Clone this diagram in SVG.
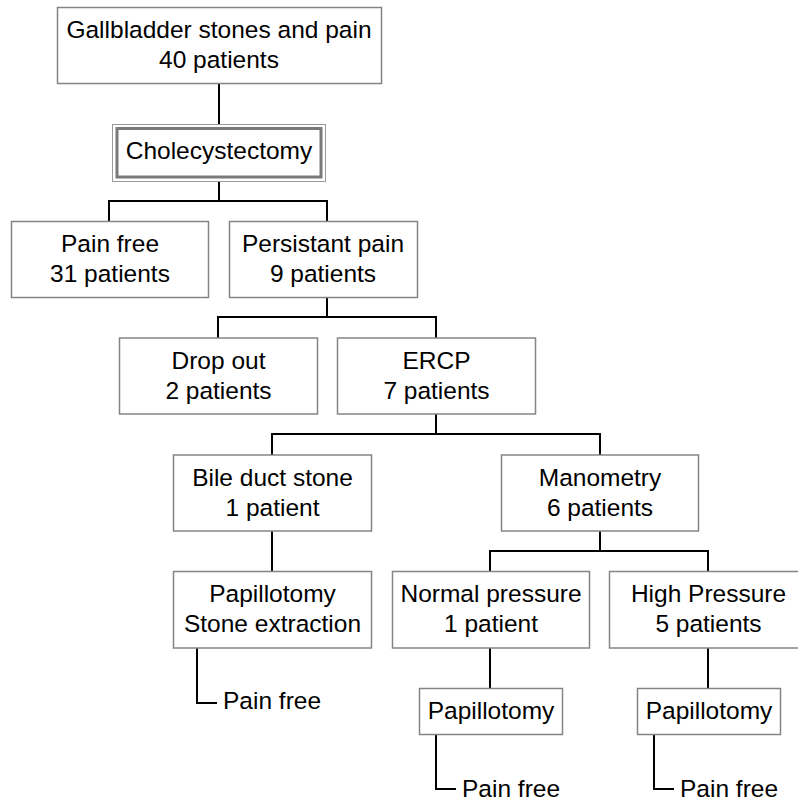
<svg xmlns="http://www.w3.org/2000/svg" width="798" height="802" viewBox="0 0 798 802">
<style>
.box{fill:#fff;stroke:#858585;stroke-width:1.5}
.t{font-family:"Liberation Sans",Arial,sans-serif;font-size:24.5px;fill:#000;text-anchor:middle}
.l{font-family:"Liberation Sans",Arial,sans-serif;font-size:24.5px;fill:#000;text-anchor:start}
.c{fill:none;stroke:#000;stroke-width:2}
</style>
<rect width="798" height="802" fill="#fff"/>
<g id="connectors">
<path class="c" d="M219,83V124"/>
<path class="c" d="M219,181V201M109,221V201H327V221"/>
<path class="c" d="M327,297V317M218,338V317H436V338"/>
<path class="c" d="M436,414V434M272,455V434H600V455"/>
<path class="c" d="M272,531V571"/>
<path class="c" d="M600,531V551M490,571V551H708V571"/>
<path class="c" d="M197,648V703H217"/>
<path class="c" d="M490,648V688"/>
<path class="c" d="M708,648V688"/>
<path class="c" d="M436,734V789H456"/>
<path class="c" d="M654,734V789H674"/>
</g>
<g id="n-top">
<rect class="box" x="57.5" y="7.5" width="324" height="76"/>
<text class="t" x="219" y="38">Gallbladder stones and pain</text>
<text class="t" x="219" y="68">40 patients</text>
</g>
<g id="n-chole">
<rect x="112.5" y="124.5" width="213" height="57" fill="#fff" stroke="#9a9a9a" stroke-width="1"/>
<rect x="117" y="128.5" width="204" height="48.5" fill="none" stroke="#7a7a7a" stroke-width="3"/>
<text class="t" x="219" y="159">Cholecystectomy</text>
</g>
<g id="n-painfree">
<rect class="box" x="11.5" y="221.5" width="197" height="76"/>
<text class="t" x="110" y="252">Pain free</text>
<text class="t" x="110" y="282">31 patients</text>
</g>
<g id="n-persist">
<rect class="box" x="229.5" y="221.5" width="188" height="76"/>
<text class="t" x="323" y="252">Persistant pain</text>
<text class="t" x="323" y="282">9 patients</text>
</g>
<g id="n-dropout">
<rect class="box" x="119.5" y="338" width="198" height="76"/>
<text class="t" x="218.5" y="369">Drop out</text>
<text class="t" x="218.5" y="399">2 patients</text>
</g>
<g id="n-ercp">
<rect class="box" x="337.5" y="338" width="198" height="76"/>
<text class="t" x="436.5" y="369">ERCP</text>
<text class="t" x="436.5" y="399">7 patients</text>
</g>
<g id="n-bile">
<rect class="box" x="173.5" y="455" width="198" height="76"/>
<text class="t" x="272.5" y="486">Bile duct stone</text>
<text class="t" x="272.5" y="516">1 patient</text>
</g>
<g id="n-mano">
<rect class="box" x="501.5" y="455" width="197" height="76"/>
<text class="t" x="600" y="486">Manometry</text>
<text class="t" x="600" y="516">6 patients</text>
</g>
<g id="n-papstone">
<rect class="box" x="173.5" y="571.5" width="198" height="76.5"/>
<text class="t" x="272.5" y="602">Papillotomy</text>
<text class="t" x="272.5" y="632">Stone extraction</text>
</g>
<g id="n-normal">
<rect class="box" x="392.5" y="571.5" width="197" height="76.5"/>
<text class="t" x="491" y="602">Normal pressure</text>
<text class="t" x="491" y="632">1 patient</text>
</g>
<g id="n-high">
<rect class="box" x="609.5" y="571.5" width="198" height="76.5"/>
<text class="t" x="708.5" y="602">High Pressure</text>
<text class="t" x="708.5" y="632">5 patients</text>
</g>
<g id="n-pap1">
<rect class="box" x="419.5" y="688.5" width="143" height="46"/>
<text class="t" x="491" y="719">Papillotomy</text>
</g>
<g id="n-pap2">
<rect class="box" x="637.5" y="688.5" width="143" height="46"/>
<text class="t" x="709" y="719">Papillotomy</text>
</g>
<g id="n-pf1"><text class="l" x="223" y="709">Pain free</text></g>
<g id="n-pf2"><text class="l" x="462" y="797">Pain free</text></g>
<g id="n-pf3"><text class="l" x="680" y="797">Pain free</text></g>
</svg>
